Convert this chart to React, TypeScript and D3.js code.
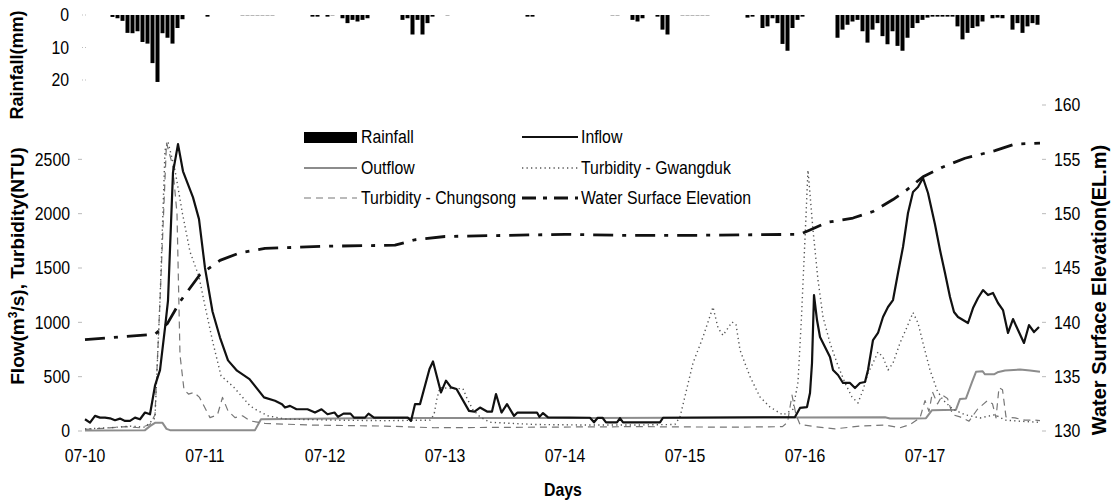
import * as d3 from "d3";

// hours counted from 07-10 00:00
const dayLabels = ["07-10", "07-11", "07-12", "07-13", "07-14", "07-15", "07-16", "07-17"];
const flowTicks = [0, 500, 1000, 1500, 2000, 2500];
const elevTicks = [130, 135, 140, 145, 150, 155, 160];
const rainTicks = [0, 10, 20];

// [first hour, hourly rainfall mm...]
const rainfallEvents: [number, number[]][] = [
  [5, [0.6, 1, 1.8, 5.5, 5.6, 5, 8.3, 8.8, 14.8, 20.6, 5.6, 7, 8.8, 4, 1.3]],
  [24, [0.5]],
  [31, [0.15, 0.15, 0.15, 0.15, 0.15, 0.15, 0.15]],
  [45, [0.5, 0.5, 0, 0.5, 0.2, 0, 1, 2.5, 1.5, 2, 1.5, 1]],
  [63, [1.5, 1, 6, 1.5, 6, 2.5, 0.5, 0, 0, 0.2]],
  [88, [0.5, 0.5]],
  [105, [0.15, 0.15]],
  [109, [1.5, 2, 1, 0, 0, 0.5, 4.5, 6]],
  [119, [0.15, 0.15, 0.15, 0.15, 0.15, 0.15]],
  [132, [0.8, 0.5, 0, 4, 3.5, 1, 2.5, 8.9, 11, 4, 1.5, 0.5]],
  [150, [7, 4.5, 3, 2, 1.5, 5, 8.5, 4.5, 2.5, 6.5, 9, 5, 9.5, 11, 7, 4, 2.5, 1.5, 0.8, 0.5, 0.5, 0.5, 0.5, 0.5,
    3.5, 7.5, 5.5, 4, 3.5, 2, 0, 1, 0.8, 1, 0, 4.5, 2.5, 5.5, 3.5, 2.5, 3]],
];

const inflow: [number, number][] = [
  [0, 108], [1, 77], [2, 139], [3, 123], [4, 123], [5, 117], [6, 99], [7, 114], [8, 93], [9, 93], [10, 123],
  [11, 108], [12, 170], [13, 154], [14, 417], [15, 560], [16, 950], [16.6, 1200], [17.6, 2380], [18.6, 2640],
  [19.6, 2390], [21.6, 2150], [22.8, 1950], [24, 1500], [25.5, 1100], [27, 860], [28.6, 650], [30.4, 555],
  [32.9, 478], [35.8, 309], [38, 278], [39.4, 247], [40, 216], [41, 231], [42.3, 200], [44.5, 200], [46, 170],
  [47.3, 200], [48.5, 154], [49.9, 170], [50.6, 130], [51.7, 160], [53.1, 160], [53.8, 123], [56, 123],
  [56.7, 160], [57.8, 123], [64.6, 123], [65.2, 93], [66, 247], [67, 247], [68.9, 571], [69.6, 640],
  [71.2, 355], [72.2, 463], [73.2, 401], [74.3, 386], [76.8, 185], [77.9, 179], [79, 216], [80.4, 179],
  [81.4, 179], [82.2, 340], [83.3, 170], [84.4, 247], [85.8, 139], [86.5, 170], [90.4, 170], [90.9, 130],
  [91.6, 165], [92.6, 125], [101, 122], [101.8, 80], [102.5, 120], [103.5, 122], [104.2, 80], [106.4, 80],
  [107, 118], [107.6, 80], [115, 80], [115.6, 122], [142, 128], [143, 212], [144.4, 220], [145, 350],
  [145.4, 625], [145.8, 1251], [146.4, 1021], [147, 865], [148, 773], [149, 681], [149.6, 561], [150.6, 515],
  [151.6, 442], [153, 442], [154, 396], [155, 442], [156, 451], [156.6, 561], [157.6, 837], [158.6, 902],
  [159.6, 1049], [160.6, 1141], [161.6, 1205], [162.6, 1454], [163.6, 1693], [164.6, 2006], [165.6, 2199],
  [166.6, 2245], [167.6, 2328], [168.6, 2190], [170, 1900], [171, 1665], [172, 1454], [173, 1233],
  [173.8, 1095], [174.6, 1049], [175.6, 1021], [176.6, 994], [177.6, 1131], [178.6, 1224], [179.6, 1297],
  [180.6, 1251], [181.6, 1270], [182.6, 1178], [183.6, 1113], [184.6, 902], [185.6, 1030], [186.6, 929],
  [187.8, 810], [188.8, 975], [189.8, 911], [190.8, 957],
];

const outflow: [number, number][] = [
  [0, 5], [12, 8], [13, 45], [14, 75], [15.5, 75], [16.3, 20], [17, 8], [34, 8], [35.2, 108], [40, 110],
  [50, 116], [60, 120], [100, 120], [140, 124], [160, 126], [161, 115], [166, 115], [168.2, 118],
  [169.4, 192], [174.2, 196], [175, 295], [176.2, 300], [176.8, 375], [177.4, 450], [178.2, 545],
  [179.5, 550], [180, 522], [181.8, 522], [182.5, 540], [184, 556], [187, 565], [189, 556], [191, 545],
];

const turbGwangduk: [number, number][] = [
  [0, 20], [5, 30], [9, 45], [12, 35], [14, 120], [15, 1205], [16, 2585], [16.6, 2660], [18, 2400],
  [19.5, 2000], [21, 1650], [22.8, 1420], [24, 1150], [25.6, 810], [27.2, 509], [29.8, 401], [33, 231],
  [34.4, 191], [36.6, 139], [40.2, 110], [50, 100], [60, 95], [69, 100], [69.8, 150], [70.4, 300], [71, 400],
  [73.4, 390], [75.6, 390], [76.4, 300], [77.6, 195], [79, 130], [81, 80], [90, 60], [100, 55], [110, 55],
  [118, 60], [119, 129], [121.6, 625], [123.6, 865], [125.6, 1141], [126.6, 950], [127.6, 880], [129.4, 1003],
  [130.2, 980], [131, 745], [133, 500], [135, 313], [137, 221], [139.6, 147], [141.6, 200], [142.6, 450],
  [143.3, 1050], [144.6, 2400], [145.6, 1850], [146.6, 1390], [147.6, 1050], [149, 810], [150.4, 625],
  [152, 442], [153.4, 313], [154.6, 258], [155.6, 377], [156.6, 533], [157.6, 625], [158.6, 727],
  [159.6, 681], [160.6, 561], [161.6, 625], [163, 810], [164.4, 957], [165.6, 1090], [166.6, 994],
  [167.6, 810], [169, 561], [170.4, 377], [171.6, 285], [173.6, 200], [176, 150], [179, 120], [182, 150],
  [184, 100], [187, 90], [191, 80],
];

const turbChungsong: [number, number][] = [
  [0, 15], [4, 25], [8, 40], [11, 30], [13, 60], [14, 150], [15, 1200], [16.3, 2650], [17.5, 2450],
  [18.4, 2000], [19, 700], [19.8, 380], [20.7, 340], [21.8, 355], [22.9, 309], [25, 123], [26.5, 150],
  [27.5, 309], [28.6, 185], [30, 123], [31.5, 140], [33, 93], [36, 70], [45, 55], [60, 45], [70, 30],
  [90, 35], [110, 40], [130, 35], [139.5, 40], [140.5, 80], [141.4, 330], [142.2, 150], [143, 60], [146, 40],
  [150, 20], [155, 45], [160, 55], [163, 30], [165, 60], [167, 120], [168, 280], [168.8, 180], [169.5, 360],
  [170.5, 250], [171.5, 330], [172.5, 300], [173.5, 150], [175, 130], [176, 110], [176.8, 90], [178.5, 200],
  [179.5, 240], [180.5, 280], [181.5, 250], [182.2, 120], [182.8, 400], [183.5, 380], [184.2, 130],
  [186, 120], [188, 100], [190, 100], [191, 95],
];

const waterElevation: [number, number][] = [
  [0, 138.4], [14, 138.9], [16.5, 139.9], [19, 141.9], [23, 144.4], [27, 145.7], [31, 146.4], [36, 146.8],
  [48, 147.0], [62, 147.1], [66, 147.6], [72, 147.9], [96, 148.1], [108, 148.0], [120, 148.0], [143, 148.1],
  [145, 148.5], [148.4, 149.2], [153.6, 149.6], [157.6, 150.2], [161.6, 151.3], [164.4, 152.2],
  [167.6, 153.4], [171.6, 154.3], [176, 155.1], [182, 155.8], [186, 156.4], [191, 156.5],
];

const FONT = "'Liberation Sans', Arial, sans-serif";
const SQUEEZE = 0.88; // the original lettering is narrow

const STYLE = {
  inflow: { stroke: "#111", width: 2.2, dash: "none" },
  outflow: { stroke: "#8c8c8c", width: 2, dash: "none" },
  gwangduk: { stroke: "#555", width: 1.4, dash: "1.3 3.2" },
  chungsong: { stroke: "#777", width: 1.2, dash: "7 5" },
  elevation: { stroke: "#111", width: 2.8, dash: "20 9 4 9" },
};

function Label({ x, y, anchor, size = 18, bold = false, children }:
  { x: number; y: number; anchor: string; size?: number; bold?: boolean; children: any }) {
  return (
    <text transform={`translate(${x},${y}) scale(${SQUEEZE},1)`} dy="0.35em" textAnchor={anchor}
      fontSize={size} fontWeight={bold ? "bold" : "normal"}>
      {children}
    </text>
  );
}

export default function App() {
  const x = d3.scaleLinear().domain([0, 192]).range([85, 1045]);
  const yFlow = d3.scaleLinear().domain([0, 3000]).range([431, 105]);
  const yElev = d3.scaleLinear().domain([130, 160]).range([431, 105]);
  const yRain = d3.scaleLinear().domain([0, 30]).range([15, 112.5]);

  const flowLine = d3.line<[number, number]>().x((d) => x(d[0])).y((d) => yFlow(d[1]));
  const elevLine = d3.line<[number, number]>().x((d) => x(d[0])).y((d) => yElev(d[1]));

  const rain = rainfallEvents
    .flatMap(([start, vals]) => vals.map((mm, i) => ({ hour: start + i, mm })))
    .filter((d) => d.mm > 0);

  const path = (d: string | null, s: { stroke: string; width: number; dash: string }) => (
    <path d={d ?? ""} fill="none" stroke={s.stroke} strokeWidth={s.width} strokeDasharray={s.dash}
      strokeLinejoin="round" />
  );

  const legendCol1 = 304, legendCol2 = 522, legendRows = [137, 168, 198];

  return (
    <svg width={1111} height={500} style={{ position: "absolute", left: 0, top: 0, background: "#fff" }}
      fontFamily={FONT}>
      {/* rainfall panel */}
      {rain.map((d) => (
        <rect key={"r" + d.hour} x={x(d.hour) + 0.5} y={yRain(0)} width={4}
          height={Math.max(0.7, yRain(d.mm) - yRain(0))} fill={d.mm < 0.3 ? "#999" : "#000"} />
      ))}
      {rainTicks.map((t) => (
        <g key={"rt" + t}>
          <line x1={82} x2={88} y1={yRain(t)} y2={yRain(t)} stroke="#bbb" strokeDasharray="1 2" />
          <Label x={69} y={yRain(t)} anchor="end">{t}</Label>
        </g>
      ))}
      <text transform={`translate(23,${65}) rotate(-90)`} textAnchor="middle" fontSize={18} fontWeight="bold">
        Rainfall(mm)
      </text>

      {/* main axes */}
      {flowTicks.map((t) => (
        <g key={"ft" + t}>
          <line x1={78} x2={82} y1={yFlow(t)} y2={yFlow(t)} stroke="#bbb" />
          <Label x={70} y={yFlow(t)} anchor="end">{t}</Label>
        </g>
      ))}
      {elevTicks.map((t) => (
        <g key={"et" + t}>
          <line x1={1042} x2={1046} y1={yElev(t)} y2={yElev(t)} stroke="#bbb" />
          <Label x={1054} y={yElev(t)} anchor="start">{t}</Label>
        </g>
      ))}
      {dayLabels.map((lab, i) => (
        <Label key={lab} x={x(i * 24)} y={456} anchor="middle">{lab}</Label>
      ))}
      <Label x={563} y={490} anchor="middle" size={18} bold>Days</Label>
      <text transform={`translate(24,${266}) rotate(-90)`} textAnchor="middle" fontSize={19} fontWeight="bold">
        Flow(m<tspan dy={-7} fontSize={12}>3</tspan><tspan dy={7}>/s), Turbidity(NTU)</tspan>
      </text>
      <text transform={`translate(1106,${290}) rotate(-90)`} textAnchor="middle" fontSize={20} fontWeight="bold">
        Water Surface Elevation(EL.m)
      </text>

      {/* series */}
      {path(flowLine(outflow), STYLE.outflow)}
      {path(flowLine(turbChungsong), STYLE.chungsong)}
      {path(flowLine(turbGwangduk), STYLE.gwangduk)}
      {path(elevLine(waterElevation), STYLE.elevation)}
      {path(flowLine(inflow), STYLE.inflow)}

      {/* legend */}
      <g>
        <rect x={legendCol1} y={legendRows[0] - 5} width={53} height={11} fill="#000" />
        <Label x={legendCol1 + 57} y={legendRows[0]} anchor="start">Rainfall</Label>
        <line x1={legendCol1} x2={legendCol1 + 53} y1={legendRows[1]} y2={legendRows[1]}
          stroke={STYLE.outflow.stroke} strokeWidth={STYLE.outflow.width} />
        <Label x={legendCol1 + 57} y={legendRows[1]} anchor="start">Outflow</Label>
        <line x1={legendCol1} x2={legendCol1 + 53} y1={legendRows[2]} y2={legendRows[2]}
          stroke={STYLE.chungsong.stroke} strokeWidth={STYLE.chungsong.width} strokeDasharray={STYLE.chungsong.dash} />
        <Label x={legendCol1 + 57} y={legendRows[2]} anchor="start">Turbidity - Chungsong</Label>

        <line x1={legendCol2} x2={legendCol2 + 56} y1={legendRows[0]} y2={legendRows[0]}
          stroke={STYLE.inflow.stroke} strokeWidth={STYLE.inflow.width} />
        <Label x={legendCol2 + 59} y={legendRows[0]} anchor="start">Inflow</Label>
        <line x1={legendCol2} x2={legendCol2 + 56} y1={legendRows[1]} y2={legendRows[1]}
          stroke={STYLE.gwangduk.stroke} strokeWidth={STYLE.gwangduk.width} strokeDasharray={STYLE.gwangduk.dash} />
        <Label x={legendCol2 + 59} y={legendRows[1]} anchor="start">Turbidity - Gwangduk</Label>
        <line x1={legendCol2} x2={legendCol2 + 56} y1={legendRows[2]} y2={legendRows[2]}
          stroke={STYLE.elevation.stroke} strokeWidth={STYLE.elevation.width} strokeDasharray="14 7 4 7" />
        <Label x={legendCol2 + 59} y={legendRows[2]} anchor="start">Water Surface Elevation</Label>
      </g>
    </svg>
  );
}
